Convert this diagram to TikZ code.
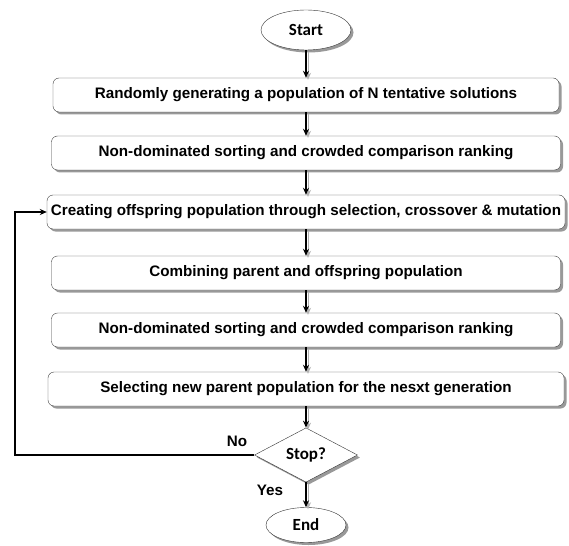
\documentclass[tikz,border=0pt]{standalone}
\usepackage{fontspec}
\setmainfont{Liberation Sans}
\newfontfamily\calfont{Carlito}
\usetikzlibrary{arrows.meta,shapes.geometric,shadows}

\begin{document}
\begin{tikzpicture}[x=1pt,y=-1pt,
    every node/.style={font=\fontsize{15.2}{17}\selectfont\bfseries},
    stepbox/.style={draw=black!75,fill=white,rounded corners=6pt,minimum height=34pt,inner sep=0pt,
      drop shadow={shadow xshift=2.5pt,shadow yshift=-2.5pt,fill=black!40,opacity=1}},
    terminal/.style={ellipse,draw=black!80,fill=white,inner sep=0pt,
      font=\calfont\fontsize{17}{19}\selectfont\bfseries,
      drop shadow={shadow xshift=2.5pt,shadow yshift=-2.5pt,fill=black!40,opacity=1}},
    decision/.style={diamond,draw=black!80,fill=white,inner sep=0pt,minimum width=103pt,minimum height=45pt,
      font=\calfont\fontsize{17}{19}\selectfont\bfseries,
      drop shadow={shadow xshift=2.5pt,shadow yshift=-2.5pt,fill=black!40,opacity=1}},
    flowarrow/.style={-{Stealth[length=7pt,width=6pt]},line width=1.5pt,
      preaction={draw=black!30,transform canvas={shift={(2pt,-2pt)}}}},
    loopline/.style={-{Stealth[length=7pt,width=6pt]},line width=1.7pt}]
  \useasboundingbox (0,0) rectangle (569,545);
  % main chain
  \node[terminal,minimum width=90pt,minimum height=40pt] (start) at (306,30) {Start};
  \node[stepbox,minimum width=506pt] (gen) at (306,95) {Randomly generating a population of N tentative solutions};
  \node[stepbox,minimum width=509pt] (sort) at (306,153) {Non-dominated sorting and crowded comparison ranking};
  \node[stepbox,minimum width=518pt] (offspring) at (306,212) {Creating offspring population through selection, crossover \& mutation};
  \node[stepbox,minimum width=509pt] (combine) at (306,273) {Combining parent and offspring population};
  \node[stepbox,minimum width=509pt] (resort) at (306,330) {Non-dominated sorting and crowded comparison ranking};
  \node[stepbox,minimum width=516pt] (select) at (306,389) {Selecting new parent population for the nesxt generation};
  \node[decision] (stop) at (306,455) {Stop?};
  \node[terminal,minimum width=80pt,minimum height=35pt] (end) at (306,525) {End};
  \draw[flowarrow] (start) -- (gen);
  \draw[flowarrow] (gen) -- (sort);
  \draw[flowarrow] (sort) -- (offspring);
  \draw[flowarrow] (offspring) -- (combine);
  \draw[flowarrow] (combine) -- (resort);
  \draw[flowarrow] (resort) -- (select);
  \draw[flowarrow] (select) -- (stop);
  \draw[flowarrow] (stop) -- (end);
  % back to offspring creation
  \coordinate (loopx) at (15,0);
  \draw[loopline] (stop.west) -- (stop.west -| loopx) -- (offspring.west -| loopx) -- (offspring.west);
  \node (no) at (237,441) {No};
  \node (yes) at (270,490) {Yes};
\end{tikzpicture}
\end{document}
